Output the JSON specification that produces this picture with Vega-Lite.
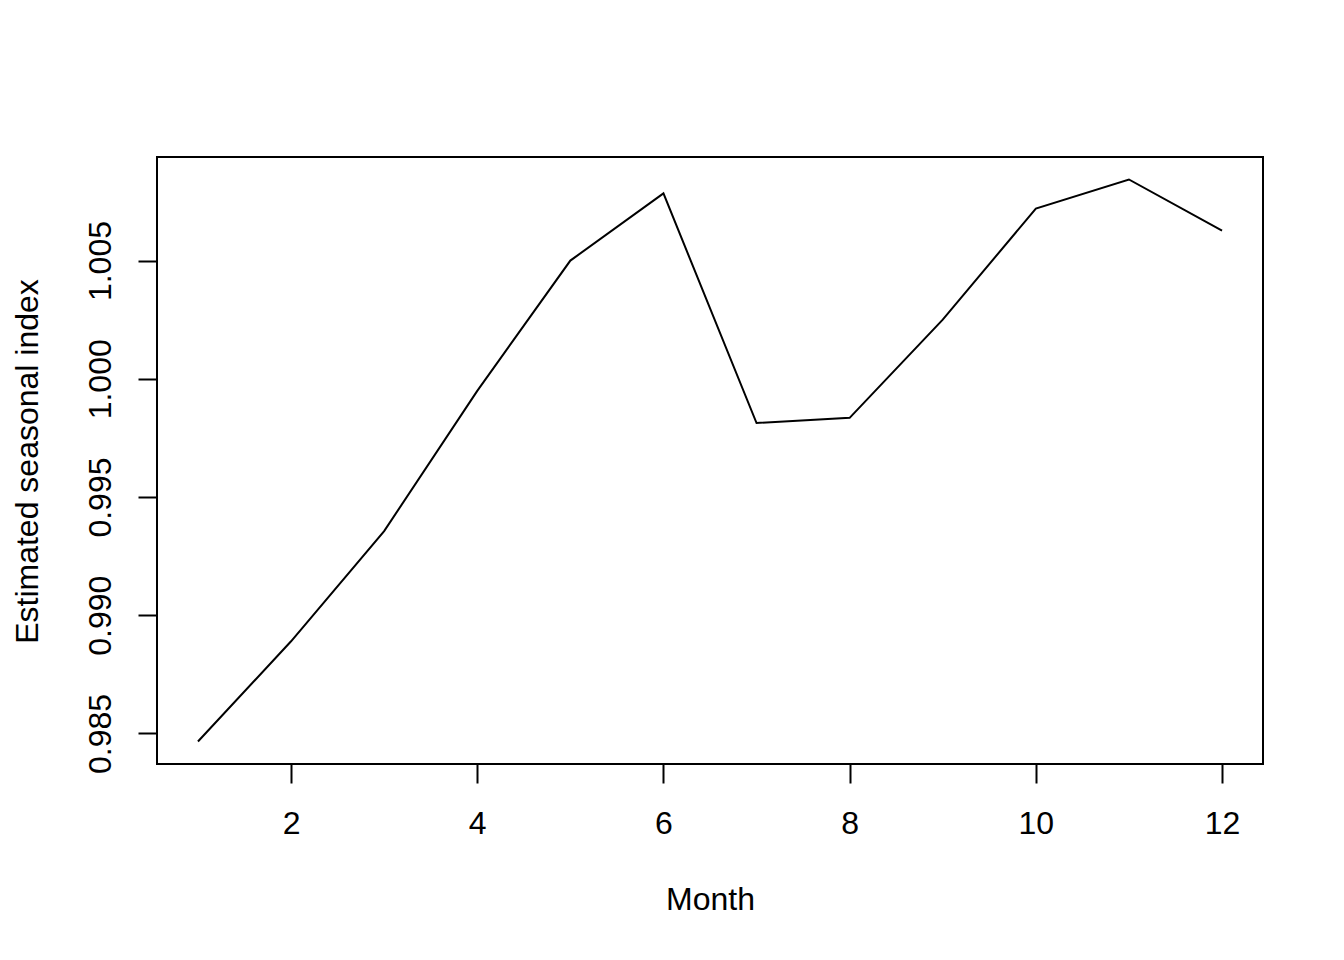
{
  "$schema": "https://vega.github.io/schema/vega-lite/v6.json",
  "width": 1106,
  "height": 607,
  "autosize": {"type": "none"},
  "padding": {"left": 157, "top": 157, "right": 81, "bottom": 196},
  "background": "white",
  "config": {
    "view": {"stroke": "black", "strokeWidth": 2, "fill": null},
    "font": "Liberation Sans"
  },
  "data": {
    "values": [
      {"month": 1, "index": 0.98466},
      {"month": 2, "index": 0.98890},
      {"month": 3, "index": 0.99356},
      {"month": 4, "index": 0.99949},
      {"month": 5, "index": 1.00500},
      {"month": 6, "index": 1.00784},
      {"month": 7, "index": 0.99813},
      {"month": 8, "index": 0.99835},
      {"month": 9, "index": 1.00250},
      {"month": 10, "index": 1.00720},
      {"month": 11, "index": 1.00843},
      {"month": 12, "index": 1.00627}
    ]
  },
  "mark": {"type": "line", "color": "black", "strokeWidth": 2},
  "encoding": {
    "x": {
      "field": "month",
      "type": "quantitative",
      "scale": {"domain": [0.56, 12.44], "nice": false, "zero": false},
      "axis": {
        "title": "Month",
        "values": [2, 4, 6, 8, 10, 12],
        "format": "d",
        "grid": false,
        "domain": false,
        "ticks": true,
        "tickSize": 19,
        "tickWidth": 2,
        "tickColor": "black",
        "labelFont": "Liberation Sans",
        "labelFontSize": 32,
        "labelColor": "black",
        "labelBaseline": "alphabetic",
        "labelPadding": 50,
        "labelFlush": false,
        "labelOverlap": false,
        "titleFont": "Liberation Sans",
        "titleFontSize": 32,
        "titleFontWeight": "normal",
        "titleColor": "black",
        "titleBaseline": "alphabetic",
        "titleAlign": "center",
        "titleX": 553,
        "titleY": 145
      }
    },
    "y": {
      "field": "index",
      "type": "quantitative",
      "scale": {"domain": [0.98371, 1.00938], "nice": false, "zero": false},
      "axis": {
        "title": "Estimated seasonal index",
        "values": [0.985, 0.99, 0.995, 1.0, 1.005],
        "format": ".3f",
        "grid": false,
        "domain": false,
        "ticks": true,
        "tickSize": 19,
        "tickWidth": 2,
        "tickColor": "black",
        "labelFont": "Liberation Sans",
        "labelFontSize": 32,
        "labelColor": "black",
        "labelAngle": 270,
        "labelAlign": "center",
        "labelBaseline": "alphabetic",
        "labelPadding": 28,
        "labelFlush": false,
        "labelOverlap": false,
        "titleFont": "Liberation Sans",
        "titleFontSize": 32,
        "titleFontWeight": "normal",
        "titleColor": "black",
        "titleAngle": 270,
        "titleBaseline": "alphabetic",
        "titleAlign": "center",
        "titleX": -120,
        "titleY": 304
      }
    }
  }
}
